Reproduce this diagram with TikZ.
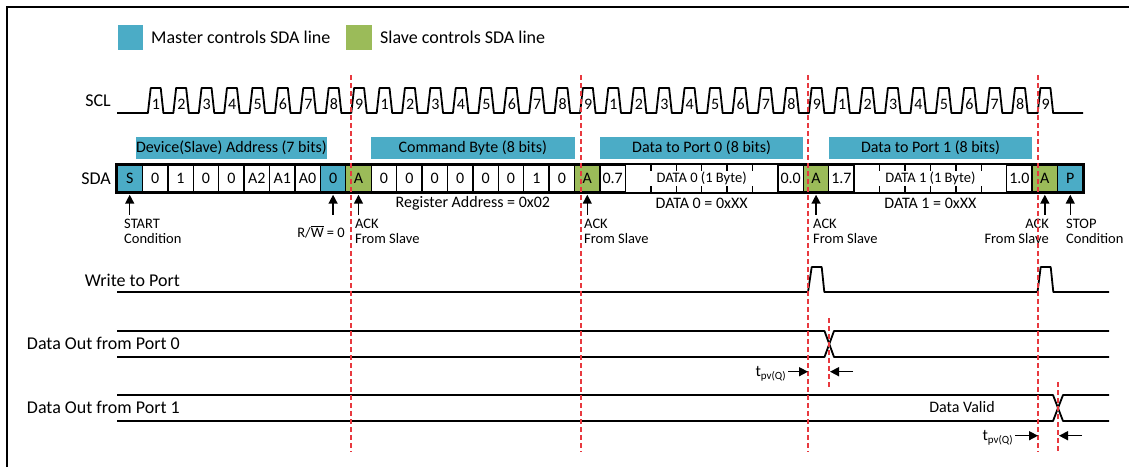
\documentclass[tikz,border=0pt]{standalone}
\usepackage{fontspec}
\setmainfont{Carlito}
\usetikzlibrary{arrows.meta}

\definecolor{masterblue}{HTML}{4BACC6}
\definecolor{slavegreen}{HTML}{9BBB59}
\definecolor{markred}{HTML}{E8393F}

\tikzset{
  cell/.style={draw, line width=1.4pt, minimum width=25.42pt, minimum height=27pt, inner sep=0pt, font=\fontsize{16}{18}\selectfont},
  hdr/.style={fill=masterblue, minimum height=22pt, inner sep=0pt, font=\fontsize{16}{18}\selectfont},
  keybox/.style={minimum width=25.5pt, minimum height=25pt, inner sep=0pt},
  sig/.style={line width=1.8pt, line join=round},
  marker/.style={markred, line width=1.6pt, dash pattern=on 5pt off 3pt},
  uparrow/.style={line width=1.5pt, shorten >=2pt, -{Triangle[length=9pt,width=9pt]}},
  tarrow/.style={line width=1.5pt, -{Triangle[length=9pt,width=9pt]}},
  note/.style={font=\fontsize{14.5}{15}\selectfont, inner sep=0pt},
  lbl/.style={font=\fontsize{18}{20}\selectfont, inner sep=0pt},
  bitnum/.style={font=\fontsize{16}{18}\selectfont, inner sep=0pt},
}

\begin{document}
\begin{tikzpicture}[x=1pt,y=-1pt]
  \useasboundingbox (0,0) rectangle (1129,467);
  % frame
  \coordinate (fbl) at (7,467);
  \coordinate (ftl) at (7,7);
  \coordinate (ftr) at (1129,7);
  \draw[line width=1.8pt] (fbl) -- (ftl) -- (ftr);

  % legend
  \node[keybox, fill=masterblue] (keym) at (130.5,37.5) {};
  \node[lbl, anchor=west] (keymtxt) at (151,37) {Master controls SDA line};
  \node[keybox, fill=slavegreen] (keys) at (359,37.5) {};
  \node[lbl, anchor=west] (keystxt) at (380,37) {Slave controls SDA line};

  % row labels
  \node[lbl, anchor=east] (scl) at (111,101) {SCL};
  \node[lbl, anchor=east] (sda) at (111,179) {SDA};
  \node[lbl, anchor=east] (wport) at (180,280) {Write to Port};
  \node[lbl, anchor=east] (dout0) at (180,343) {Data Out from Port 0};
  \node[lbl, anchor=east] (dout1) at (180,407) {Data Out from Port 1};

  % clock
  \draw[sig] (117,113)
    \foreach \i in {1,...,36} { -- ({117+\i*25.42+5.5},113) -- ({117+\i*25.42+8.3},88)
      -- ({117+\i*25.42+18.3},88) -- ({117+\i*25.42+21},113) }
    -- (1083,113);
  \foreach \i in {1,...,36} {
    \pgfmathtruncatemacro{\n}{mod(\i-1,9)+1}
    \node[bitnum] (n\i) at ({117+\i*25.42+13.5},104) {\n};
  }

  % byte headers
  \node[hdr, minimum width=177.94pt] (hdev) at ({117+4.5*25.42},148) {Device(Slave) Address (7 bits)};
  \node[hdr, minimum width=203.36pt] (hcmd) at ({117+14*25.42},148) {Command Byte (8 bits)};
  \node[hdr, minimum width=203.36pt] (hp0) at ({117+23*25.42},148) {Data to Port 0 (8 bits)};
  \node[hdr, minimum width=203.36pt] (hp1) at ({117+32*25.42},148) {Data to Port 1 (8 bits)};

  % sda cells
  \foreach \i/\t/\f in {0/S/masterblue, 1/0/white, 2/1/white, 3/0/white, 4/0/white,
      5/A2/white, 6/A1/white, 7/A0/white, 8/0/masterblue, 9/A/slavegreen,
      10/0/white, 11/0/white, 12/0/white, 13/0/white, 14/0/white, 15/0/white,
      16/1/white, 17/0/white, 18/A/slavegreen, 19/0.7/white, 26/0.0/white,
      27/A/slavegreen, 28/1.7/white, 35/1.0/white, 36/A/slavegreen, 37/P/masterblue}
    \node[cell, fill=\f] (c\i) at ({117+(\i+0.5)*25.42},178.5) {\t};
  \node[cell, draw=none, minimum width=152.52pt, font=\fontsize{14.5}{16}\selectfont] (d0) at ({117+23*25.42},178.5) {DATA 0 (1 Byte)};
  \node[cell, draw=none, minimum width=152.52pt, font=\fontsize{14.5}{16}\selectfont] (d1) at ({117+32*25.42},178.5) {DATA 1 (1 Byte)};
  \foreach \k in {21,...,25,30,31,32,33,34} {
    \draw[line width=1.4pt] ({117+\k*25.42},165) -- ++(0,6);
    \draw[line width=1.4pt] ({117+\k*25.42},192) -- ++(0,-6);
  }
  \draw[line width=2pt] (c0.north west) rectangle (c37.south east);

  % values under the bytes
  \node[bitnum] (regval) at ({117+14*25.42},203) {Register Address = 0x02};
  \node[bitnum] (val0) at ({117+23*25.42},203) {DATA 0 = 0xXX};
  \node[bitnum] (val1) at ({117+32*25.42},203) {DATA 1 = 0xXX};

  % arrows to sda
  \foreach \i in {0,8,9,18,27,36,37} {
    \coordinate (ta\i) at ([yshift=-22pt]c\i.south);
    \draw[uparrow] (ta\i) -- (c\i.south);
  }
  \node[note, anchor=west, align=left] (startlbl) at (124,231) {START\\Condition};
  \node[note, anchor=east] (rwlbl) at (345,232) {R/$\overline{\mbox{W}}$ = 0};
  \node[note, anchor=west, align=left] (ack1) at (355,231) {ACK\\From Slave};
  \node[note, anchor=west, align=left] (ack2) at (584,231) {ACK\\From Slave};
  \node[note, anchor=west, align=left] (ack3) at (813,231) {ACK\\From Slave};
  \node[note, anchor=east, align=right] (ack4) at (1049,231) {ACK\\From Slave};
  \node[note, anchor=west, align=left] (stoplbl) at (1066,231) {STOP\\Condition};

  % write to port
  \draw[sig] (117,292) -- (808,292) -- (811.7,267) -- (821.7,267) -- (824.3,292)
    -- (1037.5,292) -- (1040.7,267) -- (1050.7,267) -- (1053.3,292) -- (1109,292);

  % port 0 output
  \draw[sig] (117,331) -- (824.5,331) -- (834,357) -- (1109,357);
  \draw[sig] (117,357) -- (824.5,357) -- (834,331) -- (1109,331);

  % port 1 output
  \draw[sig] (117,395) -- (1053,395) -- (1063,421) -- (1109,421);
  \draw[sig] (117,421) -- (1053,421) -- (1063,395) -- (1109,395);
  \node[bitnum] (valid) at (962,407) {Data Valid};

  % ninth clock markers
  \foreach \k/\xx in {1/351,2/581,3/808,4/1038} {
    \coordinate (mt\k) at (\xx,75);
    \coordinate (mb\k) at (\xx,452);
    \draw[marker] (mt\k) -- (mb\k);
  }
  \coordinate (qt0) at (829,318);
  \coordinate (qb0) at (829,387);
  \draw[marker] (qt0) -- (qb0);
  \coordinate (qt1) at (1058,382);
  \coordinate (qb1) at (1058,452);
  \draw[marker] (qt1) -- (qb1);

  % propagation delay
  \coordinate (pa0) at (788,371.7);
  \coordinate (pb0) at (808,371.7);
  \coordinate (pc0) at (853,371.7);
  \coordinate (pd0) at (830,371.7);
  \draw[tarrow] (pa0) -- (pb0);
  \draw[tarrow] (pc0) -- (pd0);
  \node[bitnum, anchor=east] (tpv0) at (786,374) {t\raisebox{-3pt}{\fontsize{11}{11}\selectfont pv(Q)}};
  \coordinate (pa1) at (1015,435.7);
  \coordinate (pb1) at (1038,435.7);
  \coordinate (pc1) at (1082,435.7);
  \coordinate (pd1) at (1059,435.7);
  \draw[tarrow] (pa1) -- (pb1);
  \draw[tarrow] (pc1) -- (pd1);
  \node[bitnum, anchor=east] (tpv1) at (1013,438) {t\raisebox{-3pt}{\fontsize{11}{11}\selectfont pv(Q)}};
\end{tikzpicture}
\end{document}
